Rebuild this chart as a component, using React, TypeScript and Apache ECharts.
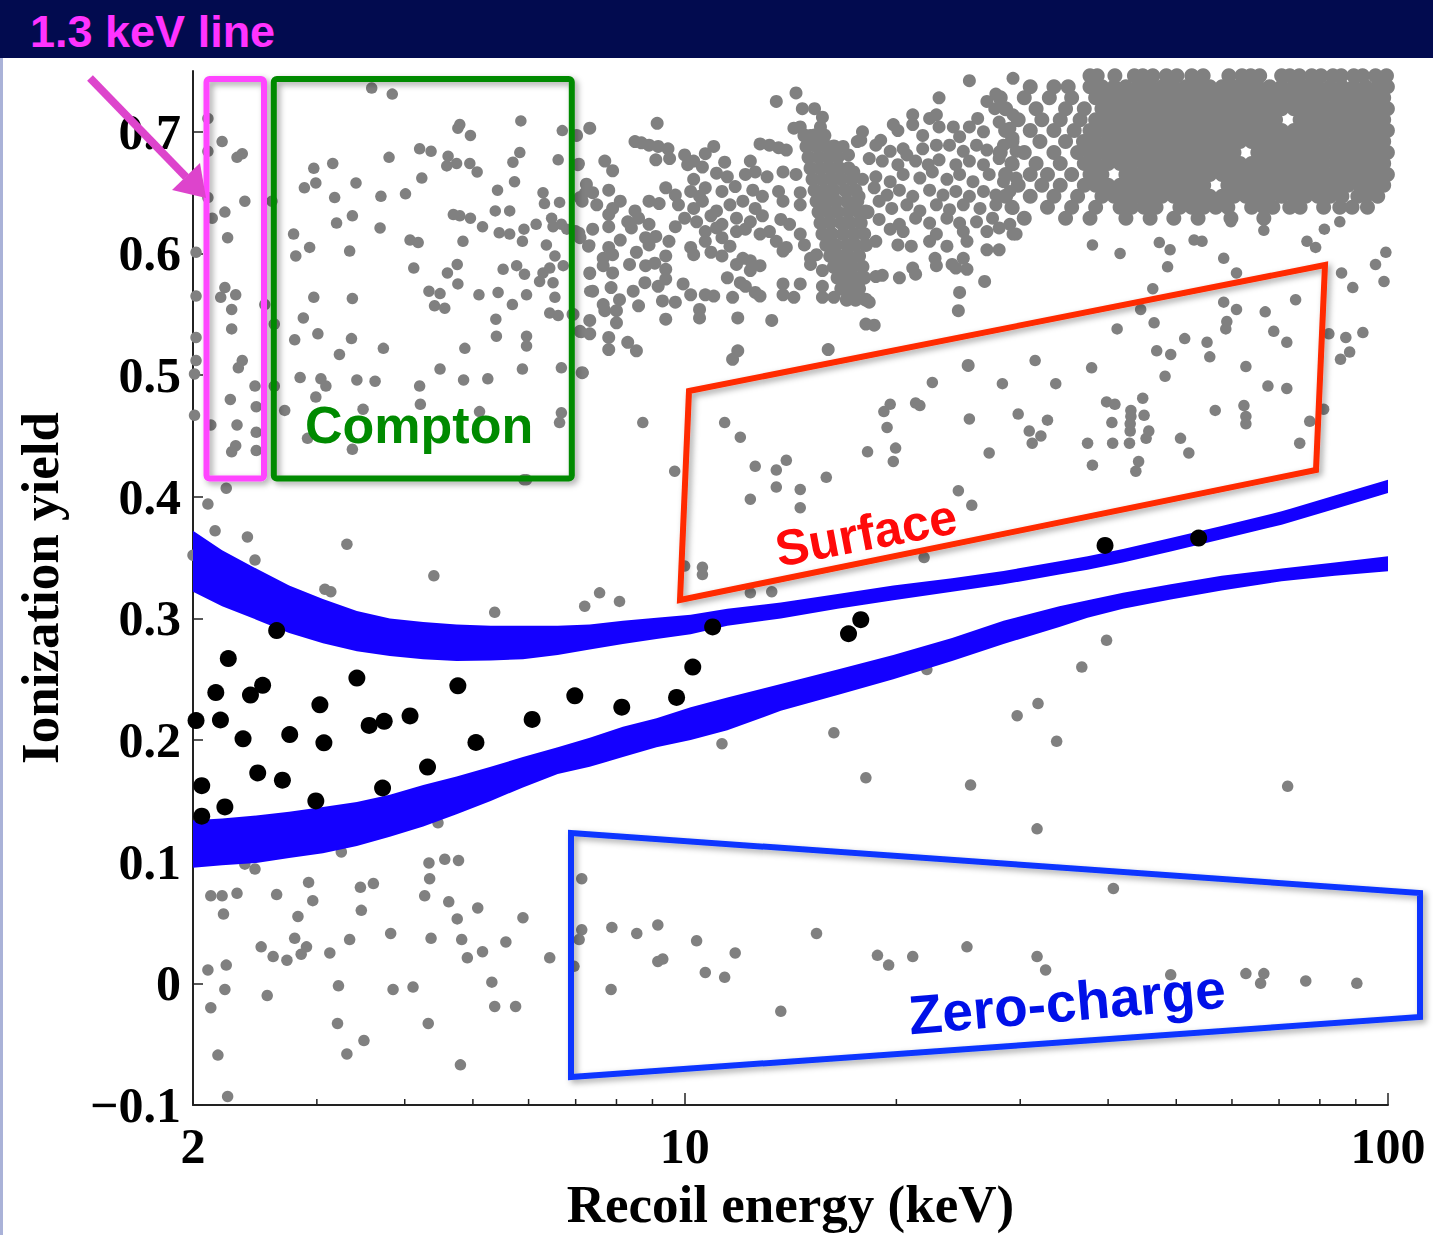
import React, { useEffect, useRef } from 'react';
import * as echarts from 'echarts';

// ---------- axis data ----------
const yTickValues = [-0.1, 0, 0.1, 0.2, 0.3, 0.4, 0.5, 0.6, 0.7];
const minorTickEnergies = [3, 4, 5, 6, 7, 8, 9, 20, 30, 40, 50, 60, 70, 80, 90];

// ---------- signal events (black) [keV, yield] ----------
const signalEvents = [
  [2.63, 0.290], [2.245, 0.267], [3.42, 0.251], [2.155, 0.239], [2.414, 0.237], [2.512, 0.245],
  [4.76, 0.2446], [6.98, 0.2364], [2.02, 0.216], [2.188, 0.2165], [3.03, 0.229], [3.56, 0.212],
  [3.74, 0.2154], [4.07, 0.2198], [6.07, 0.217], [2.356, 0.201], [2.745, 0.2045], [3.07, 0.1977],
  [5.05, 0.198], [4.31, 0.1778], [2.472, 0.173], [2.68, 0.167], [2.058, 0.1625], [3.72, 0.1606],
  [2.99, 0.150], [2.22, 0.145], [2.058, 0.1374], [9.74, 0.235], [10.27, 0.260], [10.96, 0.293],
  [8.14, 0.227], [17.1, 0.2874], [17.8, 0.299], [39.6, 0.360], [53.8, 0.366],
];

// ---------- background events (grey) [keV, yield] ----------
const greyCompton = [
  [2.10, 0.711], [2.20, 0.692], [2.10, 0.684], [2.31, 0.679], [2.35, 0.682], [2.10, 0.646], [2.37, 0.643],
  [2.22, 0.634], [2.13, 0.629], [2.24, 0.613], [2.02, 0.601], [2.22, 0.572], [2.19, 0.564], [2.30, 0.566],
  [2.27, 0.554], [2.27, 0.538], [2.02, 0.565], [2.02, 0.531], [2.35, 0.512], [2.32, 0.506], [2.02, 0.512],
  [2.45, 0.491], [2.26, 0.480], [2.46, 0.474], [2.12, 0.459], [2.31, 0.459], [2.46, 0.453], [2.30, 0.442],
  [2.27, 0.437], [2.46, 0.438], [2.23, 0.407], [2.53, 0.558], [2.61, 0.542], [2.61, 0.491], [2.01, 0.467],
  [2.01, 0.501], [2.59, 0.643], [2.70, 0.471],
  [3.59, 0.736], [3.84, 0.731], [4.79, 0.706], [4.76, 0.703], [4.96, 0.697], [5.85, 0.709], [6.70, 0.701],
  [7.02, 0.697], [7.33, 0.703], [4.20, 0.686], [4.36, 0.684], [4.61, 0.680], [4.59, 0.672], [4.74, 0.674],
  [4.95, 0.674], [5.07, 0.667], [3.80, 0.679], [3.16, 0.674], [2.97, 0.670], [2.88, 0.654], [2.99, 0.658],
  [3.41, 0.658], [3.18, 0.646], [3.70, 0.647], [4.01, 0.649], [4.23, 0.662], [5.70, 0.675], [5.83, 0.683],
  [6.61, 0.677], [7.08, 0.674], [5.73, 0.659], [5.42, 0.652], [5.38, 0.635], [5.64, 0.635], [6.29, 0.650],
  [6.32, 0.641], [6.64, 0.642], [7.25, 0.656], [7.21, 0.650], [4.69, 0.632], [4.79, 0.631], [4.96, 0.629],
  [5.16, 0.622], [5.45, 0.617], [5.64, 0.616], [5.91, 0.620], [5.88, 0.610], [6.15, 0.624], [6.47, 0.629],
  [6.50, 0.622], [6.68, 0.624], [6.80, 0.620], [7.09, 0.617], [7.33, 0.607], [6.36, 0.607], [6.54, 0.598],
  [6.43, 0.588], [6.72, 0.590], [6.29, 0.584], [6.22, 0.577], [6.50, 0.576], [7.33, 0.583], [5.52, 0.587],
  [5.77, 0.590], [5.92, 0.583], [5.43, 0.568], [5.96, 0.566], [5.69, 0.558], [6.54, 0.564], [6.43, 0.551],
  [6.61, 0.549], [6.94, 0.550], [7.33, 0.569], [7.33, 0.545], [7.13, 0.535], [6.68, 0.506], [7.17, 0.502],
  [5.88, 0.505], [5.96, 0.532], [5.96, 0.524], [5.39, 0.546], [5.40, 0.532], [5.10, 0.566], [4.87, 0.522],
  [4.85, 0.496], [5.25, 0.497], [4.49, 0.505], [4.76, 0.575], [4.75, 0.591], [4.60, 0.584], [4.33, 0.569],
  [4.49, 0.567], [4.41, 0.557], [4.56, 0.555], [4.12, 0.588], [4.07, 0.611], [4.18, 0.609], [4.84, 0.610],
  [3.69, 0.621], [3.20, 0.625], [3.37, 0.631], [2.78, 0.616], [2.93, 0.605], [2.80, 0.598], [3.34, 0.602],
  [2.97, 0.564], [3.37, 0.563], [2.87, 0.547], [2.79, 0.529], [3.01, 0.534], [3.36, 0.530], [3.23, 0.517],
  [3.73, 0.522], [2.84, 0.498], [3.04, 0.497], [3.09, 0.491], [3.42, 0.496], [3.63, 0.495], [2.99, 0.482],
  [4.20, 0.491], [4.21, 0.476], [3.49, 0.472], [2.91, 0.448], [3.37, 0.439], [6.68, 0.469], [6.64, 0.461],
  [5.96, 0.414], [5.11, 0.470],
];

const greyMidBand = [
  [29.3, 0.744], [25.4, 0.742], [14.4, 0.732], [23.0, 0.728], [27.7, 0.731], [13.5, 0.725], [26.9, 0.725],
  [14.7, 0.719], [15.3, 0.719], [27.6, 0.719], [15.7, 0.712], [9.14, 0.707], [21.1, 0.714], [22.3, 0.711],
  [22.8, 0.714], [29.3, 0.714], [26.1, 0.711], [28.0, 0.708], [15.6, 0.704], [7.33, 0.703], [14.3, 0.703],
  [14.6, 0.704], [17.9, 0.700], [19.8, 0.706], [20.1, 0.701], [21.1, 0.706], [23.0, 0.704], [24.1, 0.704],
  [25.4, 0.704], [26.6, 0.700], [29.0, 0.703], [15.1, 0.697], [7.02, 0.697], [8.5, 0.692], [8.68, 0.691],
  [8.9, 0.689], [9.17, 0.688], [9.47, 0.686], [15.4, 0.695], [15.7, 0.693], [17.8, 0.693], [19.0, 0.693],
  [21.8, 0.697], [24.6, 0.696], [26.0, 0.689], [23.8, 0.689], [28.4, 0.689], [29.3, 0.695], [22.8, 0.689],
  [10.7, 0.682], [11.0, 0.688], [12.8, 0.690], [13.2, 0.689], [13.6, 0.687], [13.95, 0.685], [17.6, 0.692],
  [18.7, 0.689], [16.8, 0.688], [20.45, 0.686], [21.8, 0.686], [19.6, 0.684], [20.7, 0.681], [24.9, 0.684],
  [26.9, 0.685], [29.6, 0.684],
  [9.1, 0.677], [9.52, 0.678], [10.0, 0.681], [10.1, 0.673], [10.3, 0.676], [10.6, 0.671], [11.4, 0.675],
  [12.4, 0.676], [7.05, 0.673], [7.7, 0.676], [17.1, 0.681], [18.3, 0.678], [19.1, 0.676], [20.1, 0.673],
  [21.3, 0.676], [22.2, 0.673], [23.0, 0.677], [24.3, 0.673], [25.4, 0.676], [26.6, 0.673], [28.0, 0.678],
  [29.3, 0.673],
  [7.9, 0.668], [7.25, 0.657], [10.3, 0.661], [11.1, 0.666], [11.5, 0.663], [12.2, 0.665], [12.6, 0.667],
  [13.1, 0.663], [13.8, 0.667], [14.4, 0.665], [17.4, 0.667], [17.9, 0.661], [18.7, 0.663], [19.6, 0.659],
  [20.45, 0.665], [21.6, 0.662], [22.5, 0.667], [23.6, 0.661], [24.6, 0.665], [25.7, 0.659], [27.1, 0.665],
  [28.4, 0.659], [29.6, 0.662],
  [7.8, 0.652], [9.4, 0.654], [9.7, 0.648], [10.2, 0.651], [10.5, 0.647], [10.7, 0.654], [11.3, 0.651],
  [11.8, 0.655], [12.5, 0.652], [12.9, 0.647], [13.6, 0.651], [14.6, 0.650], [17.0, 0.651], [17.7, 0.647],
  [18.6, 0.654], [19.4, 0.648], [20.2, 0.652], [21.1, 0.647], [22.3, 0.652], [23.3, 0.648], [24.3, 0.651],
  [25.4, 0.647], [26.6, 0.651], [27.7, 0.648], [29.0, 0.651], [7.1, 0.646], [7.4, 0.650],
  [7.15, 0.643], [7.5, 0.640], [7.9, 0.637], [8.1, 0.643], [8.5, 0.635], [8.9, 0.643], [9.2, 0.641],
  [9.8, 0.640], [10.3, 0.637], [10.6, 0.643], [11.1, 0.635], [11.6, 0.640], [12.1, 0.643], [12.6, 0.637],
  [13.8, 0.643], [14.6, 0.640], [17.4, 0.640], [18.1, 0.635], [18.9, 0.643], [19.7, 0.637], [20.7, 0.640],
  [21.6, 0.635], [22.8, 0.640], [23.8, 0.636], [24.9, 0.640], [26.3, 0.637], [27.7, 0.640], [29.3, 0.637],
  [7.8, 0.632], [8.3, 0.626], [8.6, 0.629], [8.9, 0.624], [9.7, 0.622], [10.0, 0.629], [10.4, 0.626],
  [10.9, 0.631], [11.3, 0.624], [11.85, 0.629], [12.4, 0.626], [12.9, 0.631], [13.7, 0.628], [14.1, 0.624],
  [17.7, 0.626], [18.9, 0.628], [20.2, 0.624], [21.3, 0.629], [22.3, 0.625], [23.6, 0.629], [24.6, 0.625],
  [26.0, 0.626], [27.4, 0.629], [29.0, 0.624],
  [7.0, 0.618], [7.4, 0.620], [7.8, 0.622], [8.4, 0.621], [8.8, 0.613], [9.1, 0.614], [10.7, 0.618],
  [11.1, 0.621], [11.85, 0.618], [12.2, 0.620], [12.8, 0.616], [13.2, 0.618], [14.6, 0.616], [19.6, 0.620],
  [20.45, 0.618], [22.8, 0.616], [24.9, 0.618], [26.9, 0.618], [28.0, 0.621], [29.3, 0.616],
  [7.1, 0.613], [7.3, 0.606], [8.1, 0.611], [7.8, 0.605], [8.9, 0.607], [9.5, 0.610], [10.2, 0.605],
  [10.7, 0.610], [11.3, 0.613], [11.6, 0.606], [13.5, 0.610], [13.95, 0.605], [14.8, 0.607], [18.7, 0.610],
  [20.1, 0.607], [21.0, 0.606], [22.3, 0.610], [23.6, 0.606], [25.2, 0.610], [26.9, 0.603], [28.0, 0.603],
  [29.6, 0.616],
  [7.66, 0.596], [7.9, 0.599], [8.54, 0.601], [9.4, 0.598], [10.3, 0.599], [10.9, 0.601], [11.3, 0.598],
  [11.85, 0.591], [12.1, 0.596], [12.4, 0.594], [13.8, 0.602], [15.1, 0.596], [15.4, 0.599], [22.7, 0.596],
  [24.0, 0.591], [24.9, 0.596],
  [7.33, 0.584], [7.66, 0.590], [7.9, 0.584], [8.35, 0.591], [8.8, 0.590], [9.07, 0.592], [9.4, 0.587],
  [11.5, 0.580], [12.4, 0.586], [12.8, 0.590], [15.1, 0.591], [15.7, 0.586], [18.7, 0.581], [19.1, 0.582],
  [20.2, 0.580], [21.1, 0.588], [21.3, 0.583], [22.8, 0.590], [24.3, 0.588], [25.2, 0.587], [26.7, 0.577],
  [7.4, 0.569], [7.86, 0.572], [8.45, 0.569], [8.78, 0.576], [9.17, 0.573], [9.4, 0.579], [9.95, 0.575],
  [12.0, 0.576], [12.2, 0.573], [13.8, 0.575], [14.6, 0.575], [15.7, 0.573], [17.7, 0.577], [24.6, 0.568],
  [7.66, 0.558], [8.08, 0.562], [8.6, 0.557], [9.3, 0.561], [9.7, 0.560], [10.2, 0.566], [10.7, 0.566],
  [11.0, 0.565], [11.7, 0.564], [12.6, 0.568], [12.8, 0.565], [13.8, 0.566], [14.3, 0.564], [15.7, 0.564],
  [16.3, 0.564], [17.2, 0.565], [18.3, 0.560],
  [6.94, 0.550], [7.33, 0.545], [7.7, 0.553], [8.0, 0.553], [9.4, 0.546], [10.5, 0.554], [10.5, 0.547],
  [11.9, 0.547], [24.5, 0.553], [7.1, 0.536], [7.33, 0.534], [7.8, 0.531], [8.0, 0.543], [13.3, 0.545],
  [18.1, 0.542], [18.6, 0.541], [7.8, 0.521], [8.3, 0.527], [8.54, 0.520], [11.9, 0.520], [16.0, 0.521],
  [7.15, 0.502], [11.7, 0.513], [25.3, 0.508],
];

// dense vertical cluster near 15-18 keV: [yield, energies]
const greySpikeRows: [number, number[]][] = [
  [0.697, [14.8, 15.3, 15.8]],
  [0.688, [14.9, 15.4, 15.9, 16.3]],
  [0.679, [15.0, 15.5, 16.0, 16.5]],
  [0.670, [15.1, 15.6, 16.1, 16.6, 17.1]],
  [0.661, [15.2, 15.7, 16.2, 16.7, 17.3]],
  [0.652, [15.3, 15.8, 16.3, 16.9, 17.5]],
  [0.643, [15.4, 15.9, 16.4, 17.0, 17.6]],
  [0.634, [15.5, 16.0, 16.5, 17.1, 17.7, 18.2]],
  [0.625, [15.6, 16.1, 16.7, 17.2, 17.8]],
  [0.616, [15.7, 16.2, 16.8, 17.4, 18.0]],
  [0.607, [15.9, 16.4, 17.0, 17.5, 18.1]],
  [0.598, [16.1, 16.6, 17.1, 17.7]],
  [0.589, [16.3, 16.8, 17.3, 17.9]],
  [0.580, [16.5, 17.0, 17.5, 18.0]],
  [0.571, [16.7, 17.2, 17.7]],
  [0.562, [17.0, 17.5, 18.1]],
];

// dense electron-recoil band at high energy: [yield, energies]
const greyDenseRows: [number, number[]][] = [
  [0.746, [37.7, 38.6, 40.9, 43.6, 44.8, 46.3, 48.4, 50.1, 52.6, 54.6, 59.4, 62.0, 63.8, 65.7, 70.6, 72.5, 74.8, 77.9, 80.3, 83.5, 85.8, 89.4, 92.0, 96.0, 99.5]],
  [0.737, [31.0, 33.5, 35.1, 37.7, 39.2, 40.8, 42.4, 44.1, 45.9, 47.7, 49.6, 51.6, 53.7, 55.8, 58.1, 60.4, 62.8, 65.3, 67.9, 70.6, 73.5, 76.4, 79.5, 82.7, 86.0, 89.4, 93.0, 96.7, 99.8]],
  [0.728, [28.1, 30.4, 33.0, 35.5, 38.4, 40.0, 41.6, 43.2, 45.0, 46.8, 48.6, 50.6, 52.6, 54.7, 56.9, 59.2, 61.6, 64.0, 66.6, 69.2, 72.0, 75.0, 77.9, 81.0, 84.3, 87.7, 91.2, 94.8, 98.6]],
  [0.719, [28.6, 31.6, 34.8, 37.0, 39.2, 40.8, 42.4, 44.1, 45.9, 47.7, 49.6, 51.6, 53.7, 55.8, 58.1, 60.4, 62.8, 65.3, 67.9, 70.6, 73.5, 76.4, 79.5, 82.7, 86.0, 89.4, 93.0, 96.7, 99.8]],
  [0.710, [29.8, 32.2, 34.2, 36.5, 38.4, 40.0, 41.6, 43.2, 45.0, 46.8, 48.6, 50.6, 52.6, 54.7, 56.9, 59.2, 61.6, 64.0, 66.6, 69.2, 75.0, 77.9, 81.0, 84.3, 87.7, 91.2, 94.8, 98.6]],
  [0.701, [28.6, 31.0, 33.5, 35.8, 37.7, 39.2, 40.8, 42.4, 44.1, 45.9, 47.7, 49.6, 51.6, 53.7, 55.8, 58.1, 60.4, 62.8, 65.3, 67.9, 70.6, 73.5, 76.4, 79.5, 82.7, 86.0, 89.4, 93.0, 96.7, 99.8]],
  [0.692, [29.2, 32.0, 34.8, 36.9, 38.4, 40.0, 41.6, 43.2, 45.0, 46.8, 48.6, 50.6, 52.6, 54.7, 56.9, 59.2, 61.6, 64.0, 66.6, 69.2, 72.0, 75.0, 77.9, 81.0, 84.3, 87.7, 91.2, 94.8, 98.6]],
  [0.683, [28.1, 30.4, 33.5, 36.2, 37.7, 39.2, 40.8, 42.4, 44.1, 45.9, 47.7, 49.6, 51.6, 53.7, 55.8, 58.1, 60.4, 65.3, 67.9, 70.6, 73.5, 76.4, 79.5, 82.7, 86.0, 89.4, 93.0, 96.7, 99.8]],
  [0.674, [29.2, 31.6, 34.2, 37.0, 38.4, 40.0, 41.6, 43.2, 45.0, 46.8, 48.6, 50.6, 52.6, 54.7, 56.9, 59.2, 61.6, 64.0, 66.6, 69.2, 72.0, 75.0, 77.9, 81.0, 84.3, 87.7, 91.2, 94.8, 98.6]],
  [0.665, [28.6, 31.0, 32.8, 35.5, 37.7, 39.2, 42.4, 44.1, 45.9, 47.7, 49.6, 51.6, 53.7, 55.8, 58.1, 60.4, 62.8, 65.3, 67.9, 70.6, 73.5, 76.4, 79.5, 82.7, 86.0, 89.4, 93.0, 96.7, 99.8]],
  [0.656, [29.8, 32.2, 34.2, 37.0, 38.4, 40.0, 41.6, 43.2, 45.0, 46.8, 48.6, 50.6, 52.6, 54.7, 59.2, 61.6, 64.0, 66.6, 69.2, 72.0, 75.0, 77.9, 81.0, 84.3, 87.7, 91.2, 94.8, 98.6]],
  [0.647, [28.6, 31.0, 33.5, 36.2, 39.2, 40.8, 42.4, 44.1, 45.9, 47.7, 49.6, 51.6, 53.7, 55.8, 58.1, 60.4, 62.8, 65.3, 67.9, 70.6, 73.5, 76.4, 79.5, 82.7, 86.0, 90.6, 93.0, 96.7]],
  [0.638, [29.2, 32.8, 35.5, 38.4, 41.6, 43.2, 45.0, 46.8, 50.6, 52.6, 54.7, 56.9, 59.2, 64.0, 66.6, 68.6, 72.5, 75.0, 81.0, 85.4, 88.9, 93.5]],
  [0.629, [30.4, 34.8, 37.7, 42.4, 45.9, 49.6, 53.7, 59.8, 66.6]],
];

const greyDenseEdge = [
  [59.8, 0.626], [66.6, 0.619], [76.7, 0.610], [78.9, 0.605], [81.2, 0.620], [85.4, 0.626], [99.3, 0.601],
  [96.0, 0.591], [89.1, 0.572], [85.9, 0.584], [98.7, 0.577], [58.4, 0.596], [60.9, 0.584], [53.0, 0.611],
  [54.4, 0.610], [47.3, 0.609], [49.0, 0.603], [48.6, 0.589], [46.3, 0.571], [41.6, 0.600], [38.0, 0.607],
];

const greySurface = [
  [44.5, 0.554], [58.4, 0.560], [60.9, 0.554], [66.9, 0.552], [73.9, 0.562], [41.2, 0.538], [46.5, 0.543],
  [59.0, 0.544], [58.8, 0.538], [51.4, 0.530], [55.3, 0.527], [68.8, 0.536], [71.8, 0.527], [82.4, 0.534],
  [87.1, 0.531], [92.1, 0.535], [46.9, 0.520], [49.1, 0.517], [55.8, 0.515], [85.6, 0.513], [88.2, 0.519],
  [31.5, 0.512], [37.9, 0.506], [62.8, 0.507], [48.2, 0.499], [67.5, 0.491], [71.8, 0.489], [33.7, 0.493],
  [44.8, 0.481], [39.8, 0.478], [40.9, 0.476], [43.1, 0.471], [43.1, 0.466], [45.0, 0.467], [56.8, 0.471],
  [62.4, 0.475], [62.8, 0.466], [62.8, 0.460], [40.5, 0.461], [43.0, 0.460], [43.0, 0.454], [45.7, 0.454],
  [45.3, 0.448], [50.7, 0.448], [52.1, 0.436], [77.4, 0.462], [81.0, 0.472], [74.9, 0.444], [37.4, 0.444],
  [40.6, 0.444], [42.9, 0.444], [38.0, 0.426], [44.2, 0.429], [43.8, 0.421], [32.8, 0.463], [30.9, 0.454],
  [32.1, 0.450], [31.2, 0.444],
  [8.72, 0.461], [11.4, 0.461], [12.0, 0.449], [12.6, 0.425], [13.5, 0.422], [13.95, 0.430], [13.5, 0.408],
  [14.6, 0.406], [12.4, 0.398], [14.6, 0.391], [15.9, 0.416], [9.68, 0.421], [18.2, 0.437], [19.4, 0.457],
  [19.95, 0.440], [19.8, 0.429], [19.2, 0.470], [19.6, 0.476], [21.3, 0.477], [21.6, 0.475], [22.5, 0.494],
  [25.4, 0.464], [24.5, 0.405], [25.6, 0.393], [27.1, 0.436], [28.3, 0.493], [29.8, 0.468], [21.9, 0.350],
  [10.0, 0.343], [10.6, 0.342], [10.6, 0.336], [12.4, 0.321], [13.3, 0.322], [7.57, 0.321], [8.08, 0.314],
  [7.21, 0.310],
  [2.10, 0.394], [2.15, 0.372], [2.39, 0.367], [2.45, 0.348], [3.31, 0.361], [3.08, 0.324], [3.14, 0.322],
  [4.40, 0.335], [5.37, 0.305], [5.91, 0.414], [2.00, 0.352],
];

const greyLow = [
  [4.46, 0.132], [3.25, 0.108], [2.37, 0.098], [2.45, 0.094], [4.33, 0.099], [4.56, 0.102], [4.77, 0.101],
  [4.34, 0.086], [2.92, 0.083], [3.46, 0.079], [3.61, 0.082], [2.12, 0.072], [2.20, 0.072], [2.31, 0.074],
  [2.63, 0.073], [2.21, 0.057], [2.82, 0.055], [2.96, 0.068], [3.47, 0.060], [4.27, 0.072], [4.62, 0.067],
  [4.75, 0.053], [5.08, 0.062], [5.89, 0.054], [3.82, 0.041], [3.34, 0.036], [2.79, 0.037], [2.90, 0.030],
  [2.85, 0.024], [2.50, 0.030], [2.60, 0.022], [2.72, 0.019], [3.13, 0.025], [4.36, 0.037], [4.82, 0.036],
  [4.91, 0.021], [5.16, 0.026], [5.57, 0.034], [6.43, 0.021], [2.10, 0.011], [2.23, 0.015], [2.22, -0.005],
  [2.12, -0.020], [2.55, -0.010], [3.22, -0.002], [3.85, -0.005], [4.11, -0.003], [5.32, 0.001], [5.37, -0.019],
  [5.75, -0.019], [3.21, -0.033], [4.32, -0.033], [3.50, -0.047], [3.31, -0.058], [2.17, -0.059], [4.80, -0.067],
  [2.24, -0.093],
  [39.8, 0.282], [36.7, 0.260], [22.1, 0.258], [31.8, 0.230], [29.7, 0.220], [33.8, 0.199], [16.3, 0.206],
  [11.3, 0.197], [18.1, 0.169], [25.5, 0.163], [72.0, 0.162], [31.7, 0.127], [7.14, 0.086], [40.7, 0.078],
  [7.14, 0.044], [7.08, 0.036], [7.88, 0.046], [8.55, 0.041], [9.16, 0.048], [10.4, 0.035], [9.31, 0.020],
  [9.16, 0.018], [11.8, 0.025], [10.7, 0.009], [11.4, 0.005], [7.86, -0.005], [13.7, -0.023], [15.4, 0.041],
  [18.8, 0.023], [19.5, 0.015], [21.1, 0.022], [25.2, 0.030], [31.7, 0.022], [32.6, 0.011], [49.1, 0.007],
  [62.8, 0.008], [66.6, 0.008], [65.9, 0.000], [76.4, 0.002], [90.3, 0.000], [6.96, 0.014],
];

// ---------- blue bands (edges read along energy) ----------
const bandEnergy = [2.0, 2.2, 2.46, 2.74, 3.06, 3.42, 3.81, 4.25, 4.74, 5.3, 5.89, 6.6, 7.33, 8.17, 9.12, 10.2, 11.5, 13.7, 16.5, 19.8, 24, 28.4, 34.1, 37.4, 42, 49.1, 58, 70.6, 84, 100];
const upperBandTop = [0.372, 0.356, 0.341, 0.327, 0.316, 0.306, 0.300, 0.297, 0.295, 0.294, 0.294, 0.294, 0.295, 0.298, 0.3005, 0.303, 0.308, 0.313, 0.320, 0.327, 0.333, 0.339, 0.347, 0.351, 0.357, 0.366, 0.376, 0.388, 0.401, 0.414];
const upperBandBottom = [0.322, 0.310, 0.299, 0.288, 0.2795, 0.273, 0.269, 0.2665, 0.265, 0.2655, 0.2665, 0.270, 0.2745, 0.279, 0.283, 0.287, 0.294, 0.300, 0.308, 0.315, 0.322, 0.328, 0.336, 0.340, 0.346, 0.355, 0.365, 0.377, 0.390, 0.403];
const lowerBandTop = [0.134, 0.1355, 0.138, 0.141, 0.145, 0.149, 0.155, 0.163, 0.170, 0.178, 0.186, 0.194, 0.202, 0.211, 0.218, 0.227, 0.235, 0.246, 0.258, 0.270, 0.284, 0.298, 0.310, 0.315, 0.321, 0.328, 0.335, 0.341, 0.346, 0.351];
const lowerBandBottom = [0.095, 0.097, 0.099, 0.103, 0.107, 0.113, 0.1205, 0.129, 0.139, 0.150, 0.161, 0.172, 0.178, 0.186, 0.194, 0.200, 0.208, 0.224, 0.237, 0.250, 0.265, 0.279, 0.293, 0.3005, 0.308, 0.3155, 0.323, 0.3305, 0.335, 0.3387];

const GREY = '#808080';
const BAND_BLUE = '#1400ff';
const SERIF = '"Liberation Serif", "Times New Roman", serif';
const SANS = '"Liberation Sans", Arial, Helvetica, sans-serif';

const rowsToPoints = (rows: [number, number[]][]) =>
  rows.flatMap(([y, es]) => es.map((e) => [e, y]));

const bandRenderer = (top: number[], bottom: number[]) => (_params: any, api: any) => {
  const pts: number[][] = [];
  for (let i = 0; i < bandEnergy.length; i++) pts.push(api.coord([bandEnergy[i], top[i]]));
  for (let i = bandEnergy.length - 1; i >= 0; i--) pts.push(api.coord([bandEnergy[i], bottom[i]]));
  return { type: 'polygon', shape: { points: pts }, style: { fill: BAND_BLUE } };
};

const boxShadow = {
  shadowBlur: 6,
  shadowOffsetX: 3,
  shadowOffsetY: 3,
  shadowColor: 'rgba(0,0,0,0.35)',
};

const greySeries = (name: string, data: number[][], size: number) => ({
  type: 'scatter',
  name,
  data,
  symbol: 'circle',
  symbolSize: size,
  itemStyle: { color: GREY, opacity: 1 },
  z: 2,
  silent: true,
});

export default function App() {
  const ref = useRef<HTMLDivElement>(null);

  useEffect(() => {
    if (!ref.current) return;
    const chart = echarts.init(ref.current, undefined, { renderer: 'svg' });

    const sparseGrey = [...greyCompton, ...greyDenseEdge, ...greySurface, ...greyLow];

    const yLabel = (v: number) => {
      if (Math.abs(v) < 1e-9) return '0';
      return v < 0 ? '\u2212' + Math.abs(v).toFixed(1) : v.toFixed(1);
    };

    chart.setOption({
      animation: false,
      backgroundColor: '#ffffff',
      grid: { left: 193, right: 45, top: 71, bottom: 125 },
      xAxis: {
        type: 'log',
        logBase: 10,
        min: 2,
        max: 100,
        name: 'Recoil energy (keV)',
        nameLocation: 'middle',
        nameGap: 72,
        nameTextStyle: { fontFamily: SERIF, fontWeight: 'bold', fontSize: 53, color: '#000' },
        axisLine: { show: true, onZero: false, lineStyle: { color: '#222', width: 2 } },
        axisTick: { show: true, inside: true, length: 12, lineStyle: { color: '#222', width: 1.5 } },
        minorTick: { show: false },
        splitLine: { show: false },
        axisLabel: {
          fontFamily: SERIF,
          fontWeight: 'bold',
          fontSize: 50,
          color: '#000',
          margin: 16,
          showMinLabel: true,
          showMaxLabel: true,
          formatter: (v: number) => String(Math.round(v)),
        },
      },
      yAxis: {
        type: 'value',
        min: -0.1,
        max: 0.75,
        name: 'Ionization yield',
        nameLocation: 'middle',
        nameRotate: 90,
        nameGap: 127,
        nameTextStyle: { fontFamily: SERIF, fontWeight: 'bold', fontSize: 53, color: '#000' },
        axisLine: { show: true, onZero: false, lineStyle: { color: '#222', width: 2 } },
        axisTick: { show: true, inside: true, length: 10, customValues: yTickValues, lineStyle: { color: '#222', width: 1.5 } },
        splitLine: { show: false },
        axisLabel: {
          customValues: yTickValues,
          fontFamily: SERIF,
          fontWeight: 'bold',
          fontSize: 50,
          color: '#000',
          margin: 12,
          formatter: yLabel,
        },
      },
      series: [
        greySeries('background', sparseGrey, 11.5),
        greySeries('background band', greyMidBand, 13),
        greySeries('background cluster', rowsToPoints(greySpikeRows), 14),
        greySeries('background dense', rowsToPoints(greyDenseRows), 15),
        {
          type: 'custom',
          name: 'upper band',
          data: [[bandEnergy[0], upperBandTop[0]]],
          renderItem: bandRenderer(upperBandTop, upperBandBottom),
          z: 3,
          silent: true,
        },
        {
          type: 'custom',
          name: 'lower band',
          data: [[bandEnergy[0], lowerBandTop[0]]],
          renderItem: bandRenderer(lowerBandTop, lowerBandBottom),
          z: 3,
          silent: true,
        },
        {
          type: 'scatter',
          name: 'signal',
          data: signalEvents,
          symbol: 'circle',
          symbolSize: 17,
          itemStyle: { color: '#000', opacity: 1 },
          z: 4,
          silent: true,
        },
        {
          type: 'custom',
          name: 'minor ticks',
          data: minorTickEnergies.map((e) => [e, -0.1]),
          renderItem: (_p: any, api: any) => {
            const p = api.coord([api.value(0), -0.1]);
            return {
              type: 'line',
              shape: { x1: p[0], y1: p[1], x2: p[0], y2: p[1] - 6 },
              style: { stroke: '#222', lineWidth: 1.5 },
            };
          },
          z: 5,
          silent: true,
        },
      ],
      graphic: [
        { type: 'rect', shape: { x: 0, y: 0, width: 1433, height: 58 }, style: { fill: '#020b4f' }, z: 10 },
        {
          type: 'text', x: 30, y: 31, z: 11,
          style: { text: '1.3 keV line', fill: '#ff33ff', font: `bold 45px ${SANS}`, verticalAlign: 'middle' },
        },
        { type: 'rect', shape: { x: 0, y: 58, width: 3, height: 1177 }, style: { fill: '#aab2d8' }, z: 10 },
        {
          type: 'rect', z: 10,
          shape: { x: 206.5, y: 79, width: 57.5, height: 399.5, r: 3 },
          style: { fill: 'none', stroke: '#ff44ff', lineWidth: 6, ...boxShadow },
        },
        {
          type: 'rect', z: 10,
          shape: { x: 273.8, y: 79, width: 298, height: 399.5, r: 3 },
          style: { fill: 'none', stroke: '#008a00', lineWidth: 6, ...boxShadow },
        },
        {
          type: 'polygon', z: 10,
          shape: { points: [[689, 391], [1325, 265], [1316, 470], [680, 600]] },
          style: { fill: 'none', stroke: '#ff2a00', lineWidth: 6, ...boxShadow },
        },
        {
          type: 'polygon', z: 10,
          shape: { points: [[571, 833], [1420, 893], [1420, 1017], [571, 1077]] },
          style: { fill: 'none', stroke: '#0a36ff', lineWidth: 6, ...boxShadow },
        },
        {
          type: 'text', x: 305, y: 425, z: 11,
          style: { text: 'Compton', fill: '#008a00', font: `bold 52px ${SANS}`, verticalAlign: 'middle' },
        },
        {
          type: 'text', x: 866, y: 533, rotation: 0.187, z: 11,
          style: { text: 'Surface', fill: '#ff0a0a', font: `bold 50px ${SANS}`, align: 'center', verticalAlign: 'middle' },
        },
        {
          type: 'text', x: 1067, y: 1002, rotation: 0.085, z: 11,
          style: { text: 'Zero-charge', fill: '#0010e8', font: `bold 55px ${SANS}`, align: 'center', verticalAlign: 'middle' },
        },
        {
          type: 'line', z: 12,
          shape: { x1: 90, y1: 78, x2: 186, y2: 177 },
          style: { stroke: '#dd44cc', lineWidth: 8 },
        },
        {
          type: 'polygon', z: 12,
          shape: { points: [[206, 198], [172, 190], [200, 163]] },
          style: { fill: '#dd44cc' },
        },
      ],
    });

    return () => chart.dispose();
  }, []);

  return (
    <div
      ref={ref}
      style={{ position: 'absolute', left: 0, top: 0, width: 1433, height: 1235, background: '#fff' }}
    />
  );
}
